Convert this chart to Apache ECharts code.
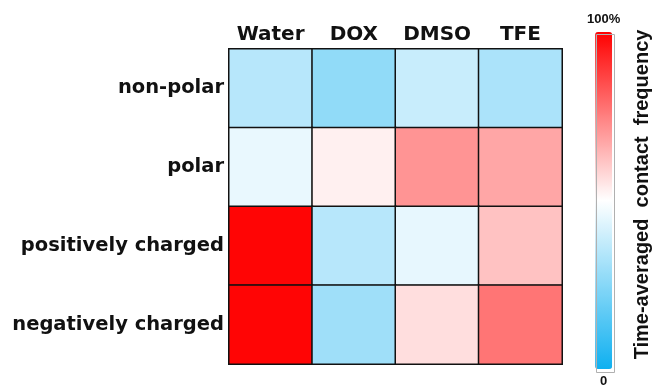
<!DOCTYPE html>
<html>
<head>
<meta charset="utf-8">
<script src="https://cdn.jsdelivr.net/npm/echarts@6/dist/echarts.min.js"></script>
<style>html,body{margin:0;padding:0;background:#fff;}#c{width:653px;height:389px;}</style>
</head>
<body>
<div id="c"></div>
<script>
const solvents = ['Water', 'DOX', 'DMSO', 'TFE'];
const residueTypes = ['non-polar', 'polar', 'positively charged', 'negatively charged'];
// contact frequency (%) per residue type, columns follow solvents
const nonPolar = [35, 27, 38.5, 32.5];
const polar = [45.5, 53, 71, 67.5];
const positivelyCharged = [99, 35, 45, 62];
const negativelyCharged = [99, 30, 56.5, 77];
const colorbarText = ['100%', '0'];
const colorbarTitle = 'Time-averaged  contact  frequency';

const rows = [nonPolar, polar, positivelyCharged, negativelyCharged];
const data = [];
rows.forEach((r, yi) => r.forEach((v, xi) => data.push([xi, yi, v])));

const chart = echarts.init(document.getElementById('c'));
chart.setOption({
  animation: false,
  backgroundColor: '#fff',
  grid: { left: 229, right: 91, top: 49, bottom: 25 },
  xAxis: {
    type: 'category', data: solvents, position: 'top',
    axisLine: { show: false }, axisTick: { show: false }, splitLine: { show: false },
    axisLabel: { interval: 0, margin: 4, fontSize: 20, fontWeight: 'bold', color: '#111', fontFamily: 'DejaVu Sans' }
  },
  yAxis: {
    type: 'category', data: residueTypes, inverse: true,
    axisLine: { show: false }, axisTick: { show: false }, splitLine: { show: false },
    axisLabel: { interval: 0, margin: 5, fontSize: 19.5, fontWeight: 'bold', color: '#111', fontFamily: 'DejaVu Sans' }
  },
  visualMap: {
    type: 'continuous', min: 0, max: 100, calculable: false,
    orient: 'vertical', left: 572, top: -2,
    itemWidth: 17, itemHeight: 337, textGap: 6,
    text: colorbarText,
    textStyle: { fontSize: 13, fontWeight: 'bold', color: '#111', fontFamily: 'Liberation Sans' },
    inRange: { color: ['#0fb0f0', '#ffffff', '#ff0000'] },
    hoverLink: false
  },
  graphic: [{
    type: 'rect', left: 594, top: 32, z: 100, silent: true,
    shape: { width: 18, height: 338 },
    style: { fill: 'none', stroke: '#b0b0b0', lineWidth: 1 }
  }, {
    type: 'text', left: 632, top: 'middle', rotation: Math.PI / 2,
    style: { text: colorbarTitle, fontSize: 20, fontWeight: 'bold', fill: '#111', fontFamily: 'Liberation Sans' }
  }],
  series: [{
    type: 'heatmap', data: data,
    itemStyle: { borderColor: '#111', borderWidth: 1.5 },
    emphasis: { disabled: true }
  }]
});
</script>
</body>
</html>
